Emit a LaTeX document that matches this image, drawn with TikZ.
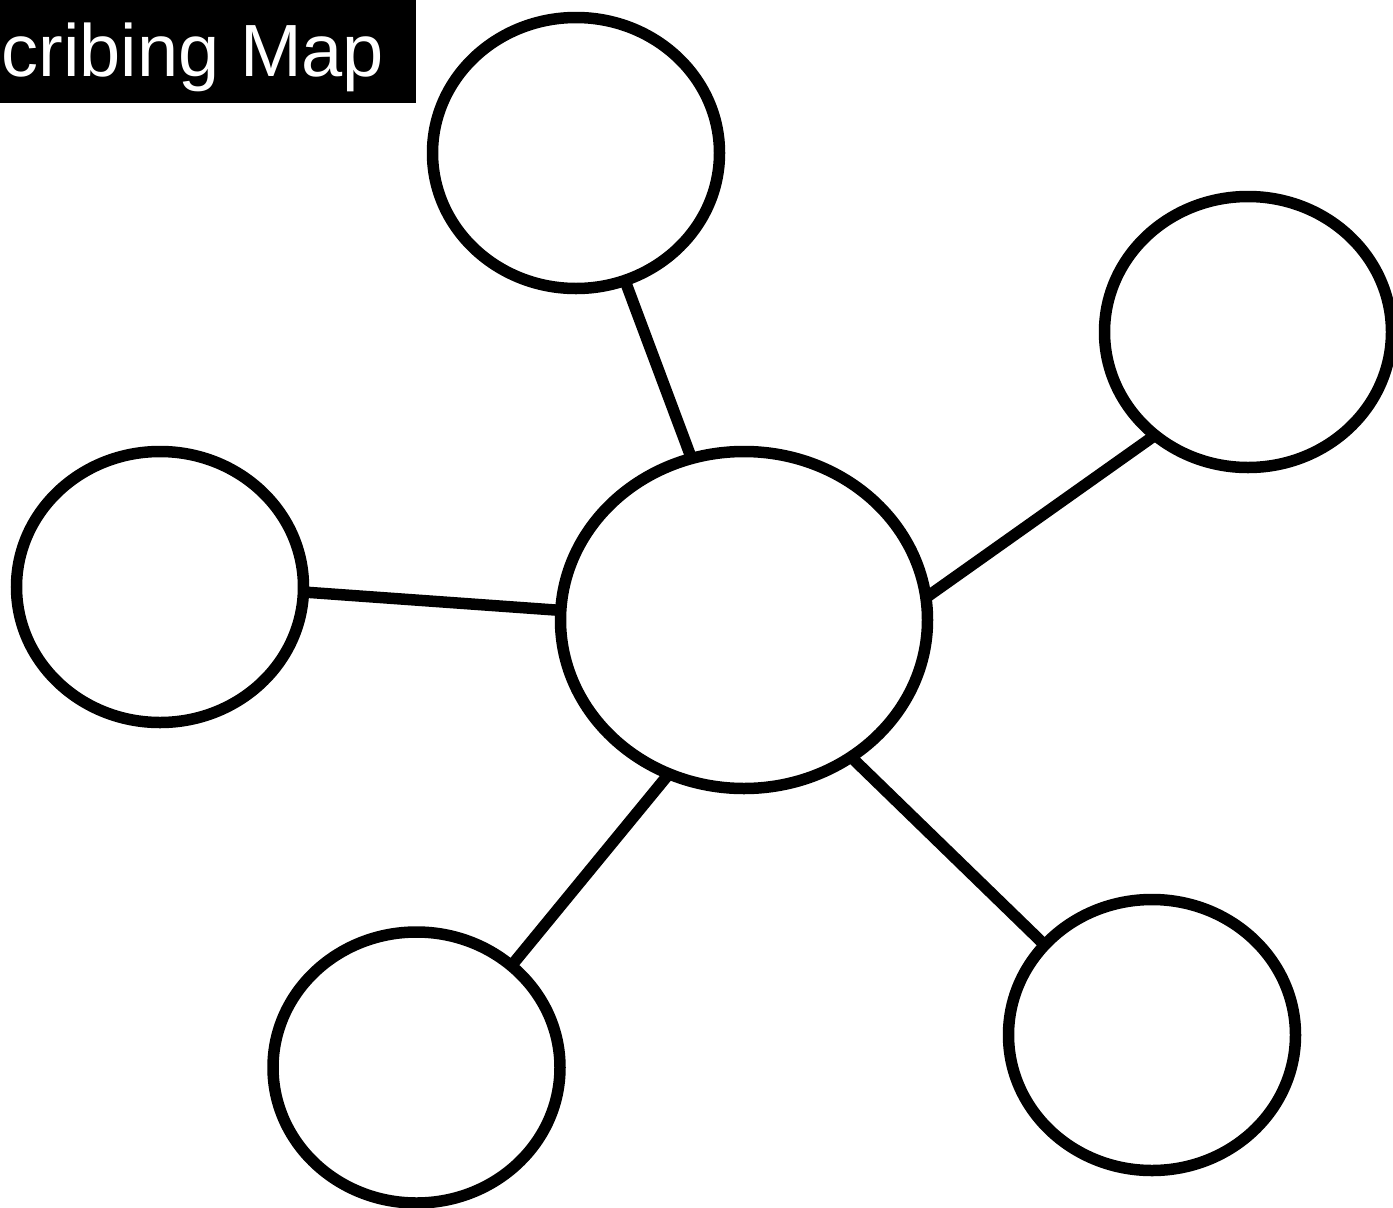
\documentclass[tikz,border=0pt]{standalone}
\usepackage{fontspec}
\setmainfont{Liberation Sans}
\usetikzlibrary{shapes.geometric}
\tikzset{
  bubble/.style={ellipse, draw=black, fill=white, line width=11.5pt, inner sep=0pt, outer sep=0pt},
  small/.style={bubble, minimum width=287pt, minimum height=271pt},
  big/.style={bubble, minimum width=367pt, minimum height=337pt},
  link/.style={draw=black, line width=11.5pt},
  titletext/.style={text=white, inner sep=0pt, font=\fontsize{74}{80}\selectfont}
}
\begin{document}
\begin{tikzpicture}[x=1pt,y=-1pt]
\useasboundingbox (0,0) rectangle (1393,1208);
\clip (0,0) rectangle (1393,1208);
\fill[white] (0,0) rectangle (1393,1208);
\fill[black] (0,0) rectangle (416,103);
\node[titletext, anchor=base west] (title) at (1.5,76) {cribing Map};
\node[big] (c) at (744,620) {};
\node[small] (t) at (576,153) {};
\node[small] (r) at (1248,332) {};
\node[small] (l) at (160,587) {};
\node[small] (bl) at (416.5,1067.5) {};
\node[small] (br) at (1152,1035) {};
\draw[link] (t.-69) -- (c.108);
\draw[link] (r.228.7) -- (c.7.7);
\draw[link] (l.-2.3) -- (c.177.6);
\draw[link] (bl.47.3) -- (c.244.6);
\draw[link] (br.140.6) -- (c.-52);
\end{tikzpicture}
\end{document}
